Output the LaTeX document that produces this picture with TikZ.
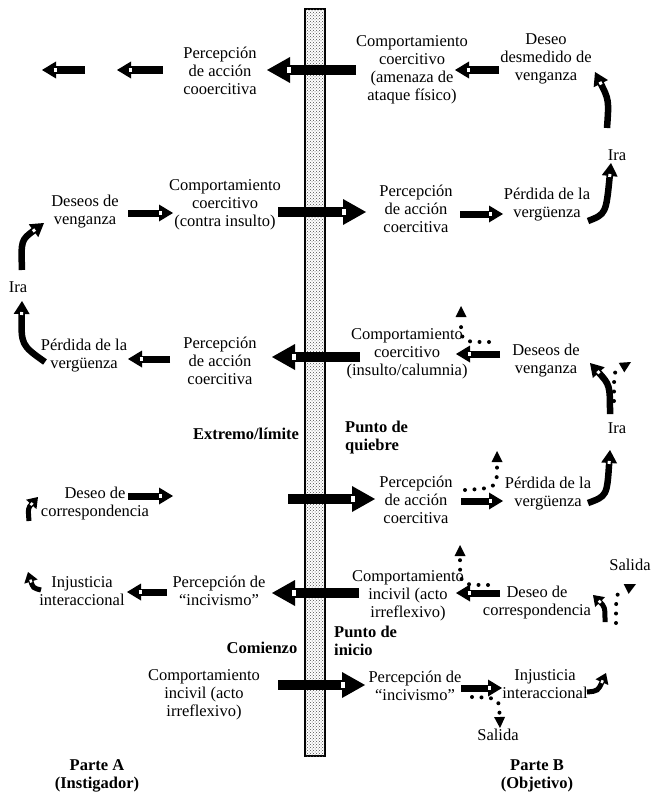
\documentclass[tikz,border=0pt]{standalone}
\usepackage{fontspec}
\setmainfont{Liberation Serif}
\usetikzlibrary{calc,patterns}
\tikzset{
  lbl/.style={align=center,inner sep=0pt,font=\fontsize{16.5}{18}\selectfont},
  blbl/.style={align=center,inner sep=0pt,font=\fontsize{16.5}{18}\selectfont\bfseries},
  bigshaft/.style={line width=10pt},
  smallshaft/.style={line width=7pt},
  curvshaft/.style={line width=6.5pt},
  hookshaft/.style={line width=5pt},
  dotshaft/.style={line width=4pt,line cap=round,dash pattern=on 0pt off 9.5pt},
  notchline/.style={white,line width=#1},
  barstyle/.style={draw,line width=2pt,fill=white,postaction={pattern=crosshatch dots,pattern color=black!70}}
}
% straight block arrows: start, tip
\newcommand{\BigArr}[2]{%
  \draw[bigshaft] (#1) -- ($(#2)!22pt!(#1)$);
  \fill (#2) -- ($(#2)!23pt!(#1)!13pt!90:(#2)$) -- ($(#2)!23pt!(#1)!13pt!-90:(#2)$) -- cycle;
  \draw[notchline=6pt] ($(#2)!20pt!(#1)$) -- ($(#2)!24pt!(#1)$);}
\newcommand{\SmallArr}[2]{%
  \draw[smallshaft] (#1) -- ($(#2)!13pt!(#1)$);
  \fill (#2) -- ($(#2)!14pt!(#1)!8.5pt!90:(#2)$) -- ($(#2)!14pt!(#1)!8.5pt!-90:(#2)$) -- cycle;
  \draw[notchline=3.5pt] ($(#2)!11.5pt!(#1)$) -- ($(#2)!14.5pt!(#1)$);}
% curved arrows: start, control, tip
\newcommand{\CurvArr}[3]{%
  \draw[curvshaft] (#1) .. controls (#2) .. ($(#3)!12pt!(#2)$);
  \fill (#3) -- ($(#3)!13pt!(#2)!8pt!90:(#3)$) -- ($(#3)!13pt!(#2)!8pt!-90:(#3)$) -- cycle;
  \draw[notchline=3pt] ($(#3)!11pt!(#2)$) -- ($(#3)!14pt!(#2)$);}
\newcommand{\HookArr}[3]{%
  \draw[hookshaft] (#1) .. controls (#2) .. ($(#3)!9pt!(#2)$);
  \fill (#3) -- ($(#3)!10pt!(#2)!7pt!90:(#3)$) -- ($(#3)!10pt!(#2)!7pt!-90:(#3)$) -- cycle;
  \draw[notchline=2.5pt] ($(#3)!8pt!(#2)$) -- ($(#3)!11pt!(#2)$);}
\newcommand{\DotArr}[3]{%
  \draw[dotshaft] (#1) .. controls (#2) .. ($(#3)!15pt!(#2)$);
  \fill (#3) -- ($(#3)!11pt!(#2)!5.5pt!90:(#3)$) -- ($(#3)!11pt!(#2)!5.5pt!-90:(#3)$) -- cycle;}
\begin{document}
\begin{tikzpicture}[x=1pt,y=-1pt]
\useasboundingbox (0,0) rectangle (651,800);
% central bar
\draw[barstyle] (305,9) rectangle (325,756);

% ---- text nodes
\node[lbl] (pA1) at (220,71) {Percepción\\de acción\\cooercitiva};
\node[lbl] (cB1) at (412,70) {Comportamiento\\coercitivo\\(amenaza de\\ataque físico)};
\node[lbl] (dB1) at (546,59) {Deseo\\desmedido de\\venganza};
\node[lbl] (iraB1) at (617,155) {Ira};
\node[lbl] (pvB2) at (547,205) {Pérdida de la\\vergüenza};
\node[lbl] (dA2) at (85,212) {Deseos de\\venganza};
\node[lbl] (cA2) at (225,205) {Comportamiento\\coercitivo\\(contra insulto)};
\node[lbl] (pB2) at (416,209) {Percepción\\de acción\\coercitiva};
\node[lbl] (iraA) at (18,287) {Ira};
\node[lbl] (pvA3) at (84,356) {Pérdida de la\\vergüenza};
\node[lbl] (pA3) at (220,361) {Percepción\\de acción\\coercitiva};
\node[lbl] (cB3) at (407,354) {Comportamiento\\coercitivo\\(insulto/calumnia)};
\node[lbl] (dB3) at (546,361) {Deseos de\\venganza};
\node[blbl] (ext) at (246,434) {Extremo/límite};
\node[blbl,align=left,anchor=west] (pq) at (345,438) {Punto de\\quiebre};
\node[lbl] (iraB4) at (617,428) {Ira};
\node[lbl] (dA4) at (95,504) {Deseo de\\correspondencia};
\node[lbl] (pB4) at (416,500) {Percepción\\de acción\\coercitiva};
\node[lbl] (pvB4) at (548,494) {Pérdida de la\\vergüenza};
\node[lbl] (iA5) at (82,591) {Injusticia\\interaccional};
\node[lbl] (pA5) at (219,591) {Percepción de\\“incivismo”};
\node[lbl] (cB5) at (408,596) {Comportamiento\\incivil (acto\\irreflexivo)};
\node[lbl] (dB5) at (537,603) {Deseo de\\correspondencia};
\node[lbl] (salB5) at (630,565) {Salida};
\node[blbl] (com) at (262,648) {Comienzo};
\node[blbl,align=left,anchor=west] (pin) at (334,641) {Punto de\\inicio};
\node[lbl] (cA6) at (204,695) {Comportamiento\\incivil (acto\\irreflexivo)};
\node[lbl] (pB6) at (415,686) {Percepción de\\“incivismo”};
\node[lbl] (iB6) at (545,684) {Injusticia\\interaccional};
\node[lbl] (salB6) at (498,735) {Salida};
\node[blbl] (parA) at (97,776) {Parte A\\(Instigador)};
\node[blbl] (parB) at (537,776) {Parte B\\(Objetivo)};

% ---- coordinates of connector ends
\coordinate (b1s) at (356,70);  \coordinate (b1e) at (267,70);
\coordinate (b2s) at (278,212); \coordinate (b2e) at (366,212);
\coordinate (b3s) at (360,357); \coordinate (b3e) at (272,357);
\coordinate (b4s) at (288,499); \coordinate (b4e) at (375,499);
\coordinate (b5s) at (359,593); \coordinate (b5e) at (272,593);
\coordinate (b6s) at (278,685); \coordinate (b6e) at (365,685);

\coordinate (s1s) at (163,70);  \coordinate (s1e) at (117,70);
\coordinate (s2s) at (85,70);   \coordinate (s2e) at (42,70);
\coordinate (s3s) at (499,70);  \coordinate (s3e) at (455,70);
\coordinate (s4s) at (128,213); \coordinate (s4e) at (173,213);
\coordinate (s5s) at (460,214); \coordinate (s5e) at (503,214);
\coordinate (s6s) at (170,359); \coordinate (s6e) at (128,359);
\coordinate (s7s) at (500,354); \coordinate (s7e) at (456,354);
\coordinate (s8s) at (128,496); \coordinate (s8e) at (173,496);
\coordinate (s9s) at (461,501); \coordinate (s9e) at (503,501);
\coordinate (s10s) at (167,592); \coordinate (s10e) at (127,592);
\coordinate (s11s) at (500,593); \coordinate (s11e) at (456,593);
\coordinate (s12s) at (461,688); \coordinate (s12e) at (502,688);

% ---- big arrows crossing the bar
\BigArr{b1s}{b1e}
\BigArr{b2s}{b2e}
\BigArr{b3s}{b3e}
\BigArr{b4s}{b4e}
\BigArr{b5s}{b5e}
\BigArr{b6s}{b6e}

% ---- small straight arrows
\SmallArr{s1s}{s1e}
\SmallArr{s2s}{s2e}
\SmallArr{s3s}{s3e}
\SmallArr{s4s}{s4e}
\SmallArr{s5s}{s5e}
\SmallArr{s6s}{s6e}
\SmallArr{s7s}{s7e}
\SmallArr{s8s}{s8e}
\SmallArr{s9s}{s9e}
\SmallArr{s10s}{s10e}
\SmallArr{s11s}{s11e}
\SmallArr{s12s}{s12e}

% ---- curved arrows
\coordinate (c1s) at (607,128); \coordinate (c1c) at (609,100); \coordinate (c1e) at (595,72);
\coordinate (c2s) at (588,221); \coordinate (c2c) at (606,214); \coordinate (c2e) at (611,163);
\coordinate (c3s) at (22,270);  \coordinate (c3c) at (21,240);  \coordinate (c3e) at (44,223);
\coordinate (c4s) at (45,362);  \coordinate (c4c) at (21,345);  \coordinate (c4e) at (22,301);
\coordinate (c5s) at (610,414); \coordinate (c5c) at (610,385); \coordinate (c5e) at (590,363);
\coordinate (c6s) at (588,503); \coordinate (c6c) at (607,496); \coordinate (c6e) at (610,450);
\CurvArr{c1s}{c1c}{c1e}
\CurvArr{c2s}{c2c}{c2e}
\CurvArr{c3s}{c3c}{c3e}
\CurvArr{c4s}{c4c}{c4e}
\CurvArr{c5s}{c5c}{c5e}
\CurvArr{c6s}{c6c}{c6e}

% ---- small hooked arrows
\coordinate (h1s) at (29,521);  \coordinate (h1c) at (28,508);  \coordinate (h1e) at (38,497);
\coordinate (h2s) at (41,590);  \coordinate (h2c) at (33,588);  \coordinate (h2e) at (28,572);
\coordinate (h3s) at (605,622); \coordinate (h3c) at (605,607); \coordinate (h3e) at (593,595);
\coordinate (h4s) at (587,692); \coordinate (h4c) at (598,691); \coordinate (h4e) at (606,673);
\HookArr{h1s}{h1c}{h1e}
\HookArr{h2s}{h2c}{h2e}
\HookArr{h3s}{h3c}{h3e}
\HookArr{h4s}{h4c}{h4e}

% ---- dotted arrows
\coordinate (d1s) at (489,342); \coordinate (d1c) at (461,342); \coordinate (d1e) at (461,306);
\coordinate (d2s) at (614,401); \coordinate (d2c) at (614,372); \coordinate (d2e) at (631,362);
\coordinate (d3s) at (465,490); \coordinate (d3c) at (497,488); \coordinate (d3e) at (497,451);
\coordinate (d4s) at (488,585); \coordinate (d4c) at (460,585); \coordinate (d4e) at (460,545);
\coordinate (d5s) at (616,623); \coordinate (d5c) at (616,594); \coordinate (d5e) at (636,584);
\coordinate (d6s) at (472,697); \coordinate (d6c) at (499,698); \coordinate (d6e) at (500,728);
\DotArr{d1s}{d1c}{d1e}
\DotArr{d2s}{d2c}{d2e}
\DotArr{d3s}{d3c}{d3e}
\DotArr{d4s}{d4c}{d4e}
\DotArr{d5s}{d5c}{d5e}
\DotArr{d6s}{d6c}{d6e}
\end{tikzpicture}
\end{document}
